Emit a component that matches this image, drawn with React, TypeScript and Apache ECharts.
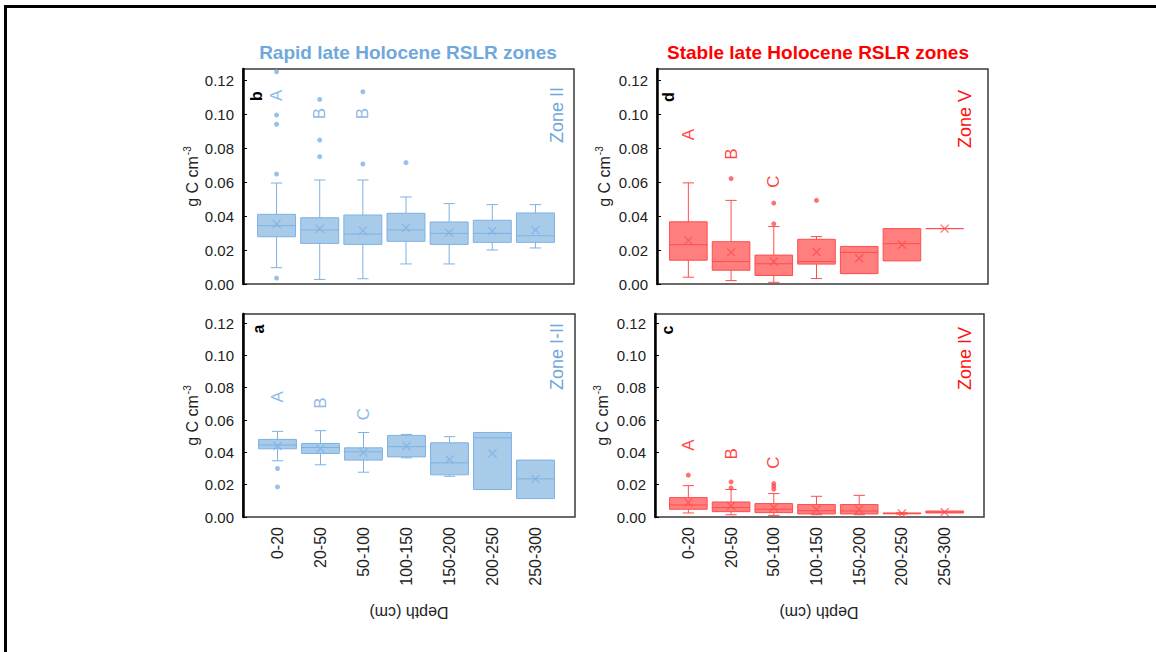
import React, { useEffect, useRef } from 'react';
import * as echarts from 'echarts';

// ---------- DATA ----------
const depthCategories = ['0-20', '20-50', '50-100', '100-150', '150-200', '200-250', '250-300'];
const yTickValues = [0, 0.02, 0.04, 0.06, 0.08, 0.1, 0.12];

// box stats per depth class: [min, Q1, median, Q3, max]
const boxesB = [
  [0.0096, 0.0278, 0.0343, 0.041, 0.0594],
  [0.0027, 0.0239, 0.0318, 0.039, 0.0612],
  [0.0031, 0.0233, 0.0294, 0.0406, 0.0612],
  [0.0118, 0.0251, 0.0318, 0.0416, 0.0512],
  [0.0118, 0.0233, 0.0298, 0.0365, 0.0473],
  [0.02, 0.0245, 0.0298, 0.0375, 0.0467],
  [0.0212, 0.0245, 0.0284, 0.0418, 0.0467],
];
const meansB = [0.0353, 0.0325, 0.0314, 0.033, 0.0302, 0.0312, 0.0318];
const outliersB = [
  [0, 0.0035], [0, 0.0647], [0, 0.094], [0, 0.0994], [0, 0.1249],
  [1, 0.0749], [1, 0.0847], [1, 0.1086],
  [2, 0.0706], [2, 0.1131],
  [3, 0.0714],
];
const lettersB = [[0, 0.108, 'A'], [1, 0.0974, 'B'], [2, 0.0974, 'B']];

const boxesA = [
  [0.0348, 0.0422, 0.0445, 0.048, 0.053],
  [0.0323, 0.0393, 0.043, 0.0455, 0.0534],
  [0.0277, 0.0352, 0.0403, 0.0428, 0.0523],
  [0.0366, 0.0372, 0.0435, 0.0505, 0.0511],
  [0.0252, 0.0261, 0.0335, 0.0459, 0.0497],
  [0.017, 0.017, 0.049, 0.0523, 0.0523],
  [0.0114, 0.0114, 0.0236, 0.0352, 0.0352],
];
const meansA = [0.0439, 0.0422, 0.0399, 0.0439, 0.0356, 0.0393, 0.0236];
const outliersA = [[0, 0.03], [0, 0.0186]];
const lettersA = [[0, 0.0713, 'A'], [1, 0.0674, 'B'], [2, 0.0606, 'C']];

const boxesD = [
  [0.004, 0.014, 0.0231, 0.0366, 0.0595],
  [0.002, 0.0081, 0.0132, 0.0249, 0.0492],
  [0.001, 0.005, 0.0119, 0.017, 0.0338],
  [0.0032, 0.0117, 0.0132, 0.0263, 0.0279],
  [0.0061, 0.0061, 0.0186, 0.0221, 0.0221],
  [0.0136, 0.0136, 0.0237, 0.0326, 0.0326],
  [0.0326, 0.0326, 0.0326, 0.0326, 0.0326],
];
const meansD = [0.0255, 0.0186, 0.0132, 0.0188, 0.0152, 0.0231, 0.0326];
const outliersD = [[1, 0.062], [2, 0.0476], [2, 0.0354], [3, 0.0492]];
const lettersD = [[0, 0.085, 'A'], [1, 0.0735, 'B'], [2, 0.0573, 'C']];

const boxesC = [
  [0.0025, 0.0048, 0.0074, 0.012, 0.0194],
  [0.0014, 0.0033, 0.0058, 0.0093, 0.017],
  [0.001, 0.0027, 0.0048, 0.0083, 0.0145],
  [0.0014, 0.0019, 0.0039, 0.0077, 0.0128],
  [0.0014, 0.0019, 0.0037, 0.0077, 0.0134],
  [0.0018, 0.002, 0.0022, 0.0025, 0.0026],
  [0.0025, 0.0025, 0.003, 0.0037, 0.0037],
];
const meansC = [0.0089, 0.0068, 0.0058, 0.0046, 0.0046, 0.0022, 0.003];
const outliersC = [[0, 0.0259], [1, 0.0217], [1, 0.018], [2, 0.0207], [2, 0.019], [2, 0.0172]];
const lettersC = [[0, 0.0414, 'A'], [1, 0.036, 'B'], [2, 0.0306, 'C']];

const titleRapid = 'Rapid late Holocene RSLR zones';
const titleStable = 'Stable late Holocene RSLR zones';
const xAxisTitle = 'Depth (cm)';

// ---------- STYLE / LAYOUT ----------
const FONT = '"Liberation Sans", Arial, Helvetica, sans-serif';
const palettes = {
  blue: { text: '#6fa8dc', stroke: '#7db1e3', fill: 'rgba(111,168,220,0.6)' },
  red: { text: '#ff1010', stroke: '#ff4d4d', fill: 'rgba(255,0,0,0.5)' },
};

const panels = [
  { tag: 'b', zone: 'Zone II', pal: 'blue', boxes: boxesB, means: meansB, outliers: outliersB, letters: lettersB,
    frame: { left: 243, top: 69, width: 331, height: 215 }, dataLeft: 255, dataWidth: 302, max: 0.1265,
    nameGap: 37, zonePos: [557, 87], tagPos: [256, 96], showX: false },
  { tag: 'a', zone: 'Zone I-II', pal: 'blue', boxes: boxesA, means: meansA, outliers: outliersA, letters: lettersA,
    frame: { left: 243, top: 314, width: 332, height: 203 }, dataLeft: 256, dataWidth: 301, max: 0.1256,
    nameGap: 37, zonePos: [557, 323], tagPos: [258, 329], showX: true },
  { tag: 'd', zone: 'Zone V', pal: 'red', boxes: boxesD, means: meansD, outliers: outliersD, letters: lettersD,
    frame: { left: 657, top: 69, width: 331, height: 215 }, dataLeft: 667, dataWidth: 299, max: 0.1265,
    nameGap: 45, zonePos: [965, 90], tagPos: [668, 97], showX: false },
  { tag: 'c', zone: 'Zone IV', pal: 'red', boxes: boxesC, means: meansC, outliers: outliersC, letters: lettersC,
    frame: { left: 655, top: 314, width: 329, height: 203 }, dataLeft: 667, dataWidth: 299, max: 0.1256,
    nameGap: 45, zonePos: [965, 327], tagPos: [667, 330], showX: true },
];

function buildOption() {
  const grid: any[] = [];
  const xAxis: any[] = [];
  const yAxis: any[] = [];
  const series: any[] = [];
  const graphic: any[] = [];

  panels.forEach((p, i) => {
    const pal = (palettes as any)[p.pal];
    const fi = 2 * i;
    const di = 2 * i + 1;
    grid.push({
      left: p.frame.left, top: p.frame.top, width: p.frame.width, height: p.frame.height,
      show: true, borderColor: '#3a3a3a', borderWidth: 1.5, backgroundColor: 'transparent',
    });
    grid.push({
      left: p.dataLeft, top: p.frame.top, width: p.dataWidth, height: p.frame.height,
    });
    xAxis.push({ gridIndex: fi, type: 'value', min: 0, max: 1, show: false });
    xAxis.push({
      gridIndex: di, type: 'category', data: depthCategories,
      axisLine: { show: false }, axisTick: { show: false }, splitLine: { show: false },
      axisLabel: { show: p.showX, interval: 0, rotate: 90, margin: 10, fontSize: 16, color: '#222', fontFamily: FONT },
    });
    yAxis.push({
      gridIndex: fi, type: 'value', min: 0, max: p.max, interval: 0.02,
      axisLine: { show: true, lineStyle: { color: '#000', width: 2.5 } },
      axisTick: { show: true, inside: true, length: 4, lineStyle: { color: '#000', width: 1 } },
      splitLine: { show: false },
      axisLabel: {
        showMaxLabel: false, margin: 9, fontSize: 15, color: '#222', fontFamily: FONT,
        formatter: (v: number) => (yTickValues.some((t) => Math.abs(t - v) < 1e-9) ? v.toFixed(2) : ''),
      },
      name: '{a|g C cm}{b|-3}',
      nameLocation: 'middle', nameGap: p.nameGap, nameRotate: 90,
      nameTextStyle: {
        color: '#222', fontFamily: FONT,
        rich: {
          a: { fontSize: 16, color: '#222', fontFamily: FONT, verticalAlign: 'bottom' },
          b: { fontSize: 10, color: '#222', fontFamily: FONT, verticalAlign: 'bottom', padding: [0, 0, 8, 1] },
        },
      },
    });
    yAxis.push({ gridIndex: di, type: 'value', min: 0, max: p.max, show: false });

    // boxes
    series.push({
      type: 'custom',
      xAxisIndex: di, yAxisIndex: di,
      encode: { x: 0, y: [1, 2, 3, 4, 5] },
      data: p.boxes.map((b, k) => [k, ...b]),
      clip: false,
      renderItem: (params: any, api: any) => {
        const x = api.value(0);
        const mn = api.value(1), q1 = api.value(2), md = api.value(3), q3 = api.value(4), mx = api.value(5);
        const pMin = api.coord([x, mn]);
        const pQ1 = api.coord([x, q1]);
        const pMd = api.coord([x, md]);
        const pQ3 = api.coord([x, q3]);
        const pMx = api.coord([x, mx]);
        const bw = api.size([1, 0])[0] * 0.88;
        const cw = bw * 0.3;
        const cx = pMd[0];
        const ls = { stroke: pal.stroke, lineWidth: 1, fill: null };
        const children: any[] = [];
        if (mx > q3 + 1e-6) {
          children.push({ type: 'line', shape: { x1: cx, y1: pQ3[1], x2: cx, y2: pMx[1] }, style: ls });
          children.push({ type: 'line', shape: { x1: cx - cw / 2, y1: pMx[1], x2: cx + cw / 2, y2: pMx[1] }, style: ls });
        }
        if (mn < q1 - 1e-6) {
          children.push({ type: 'line', shape: { x1: cx, y1: pQ1[1], x2: cx, y2: pMin[1] }, style: ls });
          children.push({ type: 'line', shape: { x1: cx - cw / 2, y1: pMin[1], x2: cx + cw / 2, y2: pMin[1] }, style: ls });
        }
        children.push({
          type: 'rect',
          shape: { x: cx - bw / 2, y: pQ3[1], width: bw, height: pQ1[1] - pQ3[1] },
          style: { fill: pal.fill, stroke: pal.stroke, lineWidth: 1 },
        });
        children.push({ type: 'line', shape: { x1: cx - bw / 2, y1: pMd[1], x2: cx + bw / 2, y2: pMd[1] }, style: ls });
        return { type: 'group', children };
      },
      z: 2,
    });
    // means
    series.push({
      type: 'scatter', xAxisIndex: di, yAxisIndex: di,
      data: p.means.map((m, k) => [k, m]),
      symbol: 'path://M0,0L10,10M10,0L0,10', symbolSize: 8,
      itemStyle: { color: 'transparent', borderColor: pal.stroke, borderWidth: 1.3 },
      z: 3,
    });
    // outliers
    series.push({
      type: 'scatter', xAxisIndex: di, yAxisIndex: di,
      data: p.outliers,
      symbol: 'circle', symbolSize: 5,
      itemStyle: { color: pal.stroke },
      z: 3,
    });
    // group letters
    series.push({
      type: 'scatter', xAxisIndex: di, yAxisIndex: di,
      data: p.letters.map((l) => ({ value: [l[0], l[1]], name: l[2] })),
      symbolSize: 0,
      label: {
        show: true, position: 'inside', formatter: '{b}', rotate: 90, offset: [5, 0],
        fontSize: 17, color: pal.text, fontFamily: FONT,
      },
      z: 4,
    });

    graphic.push({
      type: 'text', x: p.zonePos[0], y: p.zonePos[1], rotation: Math.PI / 2,
      style: {
        text: p.zone, fill: pal.text, font: `18px ${FONT}`,
        align: 'right', verticalAlign: 'middle', textAlign: 'right', textVerticalAlign: 'middle',
      },
    });
    graphic.push({
      type: 'text', x: p.tagPos[0], y: p.tagPos[1], rotation: Math.PI / 2,
      style: {
        text: p.tag, fill: '#000', font: `bold 16px ${FONT}`,
        align: 'center', verticalAlign: 'middle', textAlign: 'center', textVerticalAlign: 'middle',
      },
    });
  });

  // titles
  graphic.push({
    type: 'text', x: 408, y: 52,
    style: { text: titleRapid, fill: palettes.blue.text, font: `bold 19px ${FONT}`,
      align: 'center', verticalAlign: 'middle', textAlign: 'center', textVerticalAlign: 'middle' },
  });
  graphic.push({
    type: 'text', x: 818, y: 52,
    style: { text: titleStable, fill: '#ff0000', font: `bold 19px ${FONT}`,
      align: 'center', verticalAlign: 'middle', textAlign: 'center', textVerticalAlign: 'middle' },
  });
  // upside-down axis titles
  [[409, 612], [819, 612]].forEach(([x, y]) => {
    graphic.push({
      type: 'text', x, y, rotation: Math.PI,
      style: { text: xAxisTitle, fill: '#222', font: `16px ${FONT}`,
        align: 'center', verticalAlign: 'middle', textAlign: 'center', textVerticalAlign: 'middle' },
    });
  });
  // outer frame (top + left edge)
  graphic.push({
    type: 'polyline',
    shape: { points: [[5.5, 652], [5.5, 6.5], [1156, 6.5]] },
    style: { stroke: '#000', lineWidth: 3, fill: null },
  });

  return {
    animation: false,
    backgroundColor: '#ffffff',
    textStyle: { fontFamily: FONT },
    grid, xAxis, yAxis, series, graphic,
  };
}

export default function App() {
  const ref = useRef<HTMLDivElement>(null);
  useEffect(() => {
    if (!ref.current) return;
    const chart = echarts.init(ref.current, undefined, { renderer: 'svg' });
    chart.setOption(buildOption() as any);
    return () => chart.dispose();
  }, []);
  return (
    <div
      ref={ref}
      style={{ position: 'absolute', left: 0, top: 0, width: 1156, height: 652 }}
    />
  );
}
